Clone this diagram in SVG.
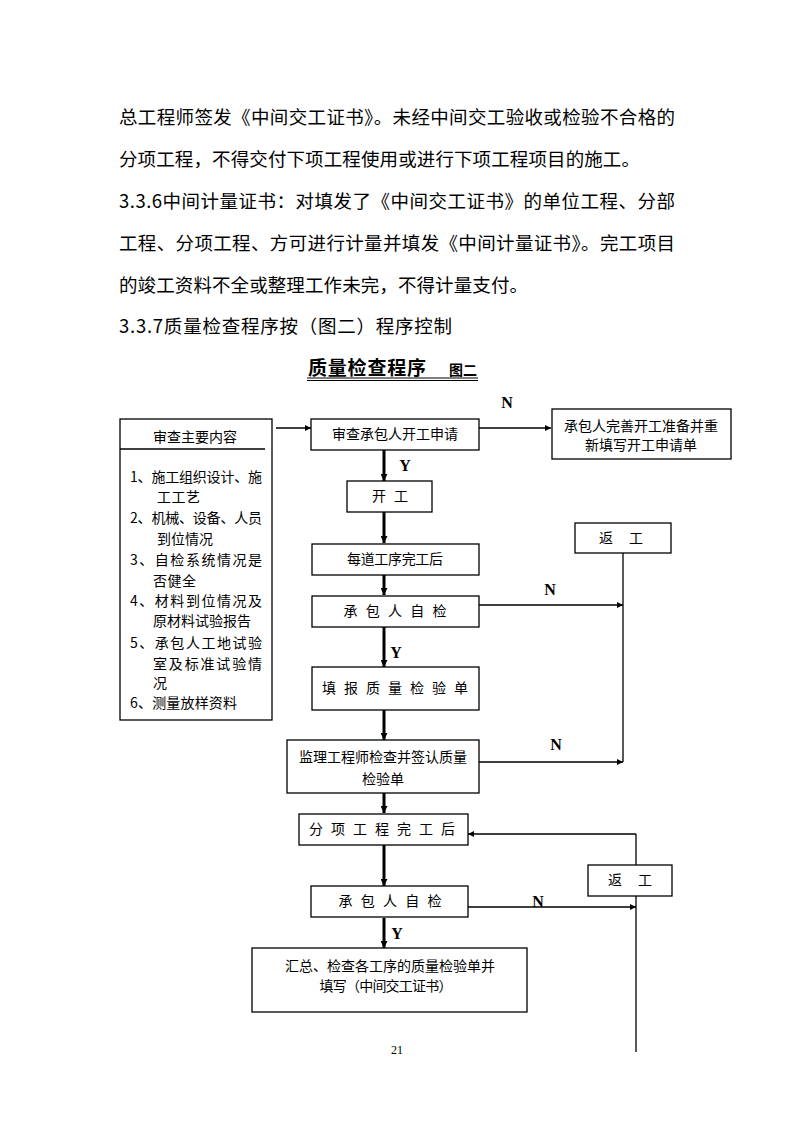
<svg xmlns="http://www.w3.org/2000/svg" width="794" height="1123" viewBox="0 0 794 1123">
<defs>
<style>
.body{font-family:"Noto Sans CJK SC","Noto Sans",sans-serif;font-size:18.5px;fill:#000}
.t{font-family:"Noto Sans CJK SC","Noto Sans",sans-serif;font-size:14px;fill:#000}
.box{fill:#fff;stroke:#000;stroke-width:1.3}
.yn{font-family:"Liberation Serif",serif;font-size:16px;font-weight:bold;fill:#000}
.thin{stroke:#000;stroke-width:1.3;fill:none}
.thick{stroke:#000;stroke-width:3;fill:none}
</style>
<marker id="ah" viewBox="0 0 6 6" refX="6" refY="3" markerWidth="6" markerHeight="6" markerUnits="userSpaceOnUse" orient="auto">
<path d="M0,0 L6,3 L0,6 z" fill="#000"/>
</marker>
<marker id="ahb" viewBox="0 0 6 6" refX="6" refY="3" markerWidth="7" markerHeight="7" markerUnits="userSpaceOnUse" orient="auto">
<path d="M0,0 L6,3 L0,6 z" fill="#000"/>
</marker>
</defs>
<rect width="794" height="1123" fill="#fff"/>

<g id="bodytext">
<text class="body" x="119" y="124" textLength="556" lengthAdjust="spacing">总工程师签发《中间交工证书》。未经中间交工验收或检验不合格的</text>
<text class="body" x="119" y="166" textLength="521" lengthAdjust="spacing">分项工程，不得交付下项工程使用或进行下项工程项目的施工。</text>
<text class="body" x="119" y="208" textLength="556" lengthAdjust="spacing">3.3.6中间计量证书：对填发了《中间交工证书》的单位工程、分部</text>
<text class="body" x="119" y="250" textLength="556" lengthAdjust="spacing">工程、分项工程、方可进行计量并填发《中间计量证书》。完工项目</text>
<text class="body" x="119" y="292" textLength="409" lengthAdjust="spacing">的竣工资料不全或整理工作未完，不得计量支付。</text>
<text class="body" x="119" y="333" textLength="333" lengthAdjust="spacing">3.3.7质量检查程序按（图二）程序控制</text>
</g>

<g id="title">
<text x="308" y="375" font-family="Noto Sans CJK SC, sans-serif" font-size="19" font-weight="bold" textLength="118" lengthAdjust="spacing">质量检查程序</text>
<text x="449" y="375" font-family="Noto Sans CJK SC, sans-serif" font-size="14" font-weight="bold" textLength="28" lengthAdjust="spacing">图二</text>
<line x1="307" y1="378" x2="478" y2="378" stroke="#000" stroke-width="1"/>
<line x1="307" y1="380.5" x2="478" y2="380.5" stroke="#000" stroke-width="1"/>
</g>

<g id="connectors">
<line class="thin" x1="276" y1="428" x2="311" y2="428" marker-end="url(#ah)"/>
<line class="thin" x1="479" y1="428" x2="551" y2="428" marker-end="url(#ah)"/>
<line class="thick" x1="384" y1="450" x2="384" y2="481" marker-end="url(#ahb)"/>
<line class="thick" x1="384" y1="512" x2="384" y2="543" marker-end="url(#ahb)"/>
<line class="thick" x1="384" y1="575" x2="384" y2="595" marker-end="url(#ahb)"/>
<line class="thick" x1="384" y1="627" x2="384" y2="667" marker-end="url(#ahb)"/>
<line class="thick" x1="384" y1="710" x2="384" y2="740" marker-end="url(#ahb)"/>
<line class="thick" x1="384" y1="793" x2="384" y2="813" marker-end="url(#ahb)"/>
<line class="thick" x1="384" y1="845" x2="384" y2="886" marker-end="url(#ahb)"/>
<line class="thick" x1="384" y1="918" x2="384" y2="948" marker-end="url(#ahb)"/>
<line class="thin" x1="479" y1="605" x2="623" y2="605" marker-end="url(#ah)"/>
<line class="thin" x1="479" y1="762" x2="623" y2="762" marker-end="url(#ah)"/>
<line class="thin" x1="623" y1="553" x2="623" y2="762"/>
<line class="thin" x1="468" y1="907" x2="636" y2="907" marker-end="url(#ah)"/>
<line class="thin" x1="636" y1="834" x2="636" y2="865"/>
<line class="thin" x1="636" y1="896" x2="636" y2="1052"/>
<line class="thin" x1="636" y1="834" x2="468" y2="834" marker-end="url(#ah)"/>
<text class="yn" x="507" y="408" text-anchor="middle">N</text>
<text class="yn" x="405" y="471" text-anchor="middle">Y</text>
<text class="yn" x="550" y="595" text-anchor="middle">N</text>
<text class="yn" x="396" y="658" text-anchor="middle">Y</text>
<text class="yn" x="556" y="750" text-anchor="middle">N</text>
<text class="yn" x="538" y="907" text-anchor="middle">N</text>
<text class="yn" x="397" y="939" text-anchor="middle">Y</text>
</g>

<g id="n_content">
<rect class="box" x="120" y="419" width="152" height="301"/>
<line class="thin" x1="120" y1="449" x2="265" y2="449"/>
<text class="t" x="195" y="442" text-anchor="middle" textLength="84" lengthAdjust="spacing">审查主要内容</text>
<text class="t" x="130" y="482" textLength="132" lengthAdjust="spacing">1、施工组织设计、施</text>
<text class="t" x="157" y="502" textLength="43" lengthAdjust="spacing">工工艺</text>
<text class="t" x="130" y="523" textLength="132" lengthAdjust="spacing">2、机械、设备、人员</text>
<text class="t" x="157" y="544" textLength="56" lengthAdjust="spacing">到位情况</text>
<text class="t" x="130" y="565" textLength="132" lengthAdjust="spacing">3、自检系统情况是</text>
<text class="t" x="153" y="586" textLength="43" lengthAdjust="spacing">否健全</text>
<text class="t" x="130" y="606" textLength="132" lengthAdjust="spacing">4、材料到位情况及</text>
<text class="t" x="153" y="626" textLength="98" lengthAdjust="spacing">原材料试验报告</text>
<text class="t" x="130" y="648" textLength="132" lengthAdjust="spacing">5、承包人工地试验</text>
<text class="t" x="153" y="669" textLength="109" lengthAdjust="spacing">室及标准试验情</text>
<text class="t" x="153" y="688">况</text>
<text class="t" x="130" y="708" textLength="107" lengthAdjust="spacing">6、测量放样资料</text>
</g>

<g id="n_apply">
<rect class="box" x="311" y="419" width="168" height="31"/>
<text class="t" x="395" y="439" text-anchor="middle" textLength="126" lengthAdjust="spacing">审查承包人开工申请</text>
</g>

<g id="n_redo_apply">
<rect class="box" x="552" y="409" width="179" height="50"/>
<text class="t" x="641" y="431" text-anchor="middle">承包人完善开工准备并重</text>
<text class="t" x="641" y="450" text-anchor="middle">新填写开工申请单</text>
</g>

<g id="n_start">
<rect class="box" x="347" y="481" width="85" height="31"/>
<text class="t" x="390" y="501" text-anchor="middle" textLength="36" lengthAdjust="spacing">开 工</text>
</g>

<g id="n_each">
<rect class="box" x="312" y="544" width="167" height="31"/>
<text class="t" x="395" y="564" text-anchor="middle" textLength="96" lengthAdjust="spacing">每道工序完工后</text>
</g>

<g id="n_rework1">
<rect class="box" x="575" y="523" width="96" height="30"/>
<text class="t" x="621" y="543" text-anchor="middle" textLength="44" lengthAdjust="spacing">返　工</text>
</g>

<g id="n_self1">
<rect class="box" x="312" y="596" width="167" height="31"/>
<text class="t" x="395" y="616" text-anchor="middle" textLength="103" lengthAdjust="spacing">承包人自检</text>
</g>

<g id="n_fill">
<rect class="box" x="312" y="667" width="167" height="43"/>
<text class="t" x="395" y="693" text-anchor="middle" textLength="146" lengthAdjust="spacing">填报质量检验单</text>
</g>

<g id="n_supervise">
<rect class="box" x="287" y="740" width="192" height="53"/>
<text class="t" x="383" y="762" text-anchor="middle" textLength="168" lengthAdjust="spacing">监理工程师检查并签认质量</text>
<text class="t" x="383" y="784" text-anchor="middle">检验单</text>
</g>

<g id="n_sub">
<rect class="box" x="299" y="814" width="169" height="31"/>
<text class="t" x="382" y="834" text-anchor="middle" textLength="146" lengthAdjust="spacing">分项工程完工后</text>
</g>

<g id="n_rework2">
<rect class="box" x="588" y="865" width="84" height="31"/>
<text class="t" x="630" y="885" text-anchor="middle" textLength="44" lengthAdjust="spacing">返　工</text>
</g>

<g id="n_self2">
<rect class="box" x="311" y="886" width="157" height="31"/>
<text class="t" x="390" y="906" text-anchor="middle" textLength="103" lengthAdjust="spacing">承包人自检</text>
</g>

<g id="n_summary">
<rect class="box" x="252" y="948" width="275" height="64"/>
<text class="t" x="390" y="971" text-anchor="middle" textLength="210" lengthAdjust="spacing">汇总、检查各工序的质量检验单并</text>
<text class="t" x="386" y="991" text-anchor="middle" textLength="133" lengthAdjust="spacing">填写（中间交工证书）</text>
</g>

<g id="pagenum">
<text x="397" y="1054" text-anchor="middle" font-family="Liberation Serif, serif" font-size="12">21</text>
</g>
</svg>
